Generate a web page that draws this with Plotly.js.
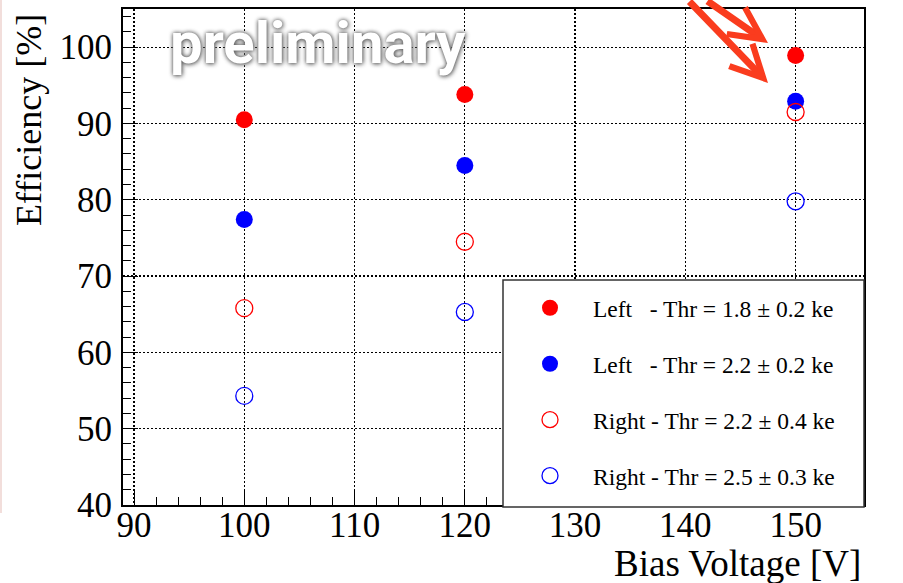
<!DOCTYPE html>
<html>
<head>
<meta charset="utf-8">
<script src="https://cdn.plot.ly/plotly-3.0.1.min.js"></script>
<style>
  html, body { margin: 0; padding: 0; background: #fff; }
  #chart { width: 903px; height: 583px; }
</style>
</head>
<body>
<div id="chart"></div>
<script>
// ---- data ----
const biasVoltage = [100, 120, 150];
const leftThr18 = [90.5, 93.8, 98.9];
const leftThr22 = [77.4, 84.5, 92.9];
const rightThr22 = [65.8, 74.5, 91.5];
const rightThr25 = [54.3, 65.3, 79.8];
const seriesNames = [
  "Left\u00a0\u00a0\u00a0- Thr = 1.8 \u00b1 0.2 ke",
  "Left\u00a0\u00a0\u00a0- Thr = 2.2 \u00b1 0.2 ke",
  "Right - Thr = 2.2 \u00b1 0.4 ke",
  "Right - Thr = 2.5 \u00b1 0.3 ke"
];
const xTickVals = [90, 100, 110, 120, 130, 140, 150];
const yTickVals = [40, 50, 60, 70, 80, 90, 100];

const SERIF = "Liberation Serif, Times New Roman, serif";
const RED = "#ff0000", BLUE = "#0000ff";

function tr(y, name, color, open, grp) {
  return {
    type: "scatter", mode: "markers", x: biasVoltage, y: y, name: name,
    legendgroup: grp,
    marker: open
      ? { symbol: "circle-open", size: 17, color: color, line: { color: color, width: 1.3 } }
      : { symbol: "circle", size: 17, color: color, line: { width: 0 } },
    hoverinfo: "x+y"
  };
}

const data = [
  tr(leftThr18, seriesNames[0], RED, false, "a"),
  tr(leftThr22, seriesNames[1], BLUE, false, "b"),
  tr(rightThr22, seriesNames[2], RED, true, "c"),
  tr(rightThr25, seriesNames[3], BLUE, true, "d")
];

const L = 123, R = 864, T = 9, B = 505;
const W = R - L, H = B - T;
const px = v => (v - L) / W;
const py = v => (B - v) / H;

const axisCommon = {
  showline: true, linecolor: "#000", linewidth: 2, mirror: true,
  ticks: "inside", ticklen: 15, tickwidth: 1, tickcolor: "#000",
  showgrid: true, gridcolor: "#000", gridwidth: 1.2, griddash: "2px,2px",
  zeroline: false,
  tickfont: { family: SERIF, size: 35, color: "#000" },
  minor: { dtick: 2, ticks: "inside", ticklen: 8, tickwidth: 1, tickcolor: "#000", showgrid: false }
};

const layout = {
  width: 903, height: 583,
  margin: { l: L, r: 903 - R, t: T, b: 583 - B, pad: 0 },
  paper_bgcolor: "#fff", plot_bgcolor: "#fff",
  showlegend: true,
  xaxis: Object.assign({}, axisCommon, {
    range: [89, 156.2], tickmode: "array", tickvals: xTickVals,
    ticktext: xTickVals.map(String), ticklabelstandoff: -12
  }),
  yaxis: Object.assign({}, axisCommon, {
    range: [40, 105], tickmode: "array", tickvals: yTickVals,
    ticktext: yTickVals.map(String), ticklabelstandoff: 2
  }),
  legend: {
    x: px(507), y: py(286), xanchor: "left", yanchor: "top",
    bgcolor: "rgba(0,0,0,0)", borderwidth: 0,
    font: { family: SERIF, size: 23.5, color: "#000" },
    itemsizing: "trace", itemwidth: 76, tracegroupgap: 22.4,
    traceorder: "grouped"
  },
  shapes: [
    { type: "rect", xref: "paper", yref: "paper", layer: "above",
      x0: px(503), x1: px(864), y0: py(507), y1: py(280),
      fillcolor: "#fff", line: { color: "#333", width: 1.5 } },
    { type: "line", xref: "paper", yref: "paper", layer: "above",
      x0: px(1), x1: px(1), y0: py(513), y1: py(-5),
      line: { color: "#f2dedb", width: 2 } }
  ],
  annotations: [
    { xref: "paper", yref: "paper", x: px(863), y: py(563), xanchor: "right", yanchor: "middle",
      text: "Bias Voltage [V]", showarrow: false,
      font: { family: SERIF, size: 37, color: "#000" } },
    { xref: "paper", yref: "paper", x: px(29), y: py(12), xanchor: "center", yanchor: "top",
      text: "Efficiency [%]", showarrow: false, textangle: -90,
      font: { family: SERIF, size: 36, color: "#000" } },
    { xref: "paper", yref: "paper", x: px(318), y: py(43), xanchor: "center", yanchor: "middle",
      text: "<b>preliminary</b>", showarrow: false,
      font: { family: "Roboto, sans-serif", size: 58, color: "#fff",
              shadow: "0px 0px 4px #555, 1px 1px 5px #888" } },
    { xref: "paper", yref: "paper", x: px(768), y: py(43), text: "", showarrow: true,
      axref: "pixel", ayref: "pixel", ax: -62, ay: -56,
      arrowhead: 5, arrowsize: 0.9, arrowwidth: 7, arrowcolor: "#fa3c1e", standoff: 0 },
    { xref: "paper", yref: "paper", x: px(768), y: py(83), text: "", showarrow: true,
      axref: "pixel", ayref: "pixel", ax: -80, ay: -100,
      arrowhead: 5, arrowsize: 0.9, arrowwidth: 7, arrowcolor: "#fa3c1e", standoff: 0 }
  ]
};

Plotly.newPlot("chart", data, layout, { displayModeBar: false, staticPlot: true });
</script>
</body>
</html>
